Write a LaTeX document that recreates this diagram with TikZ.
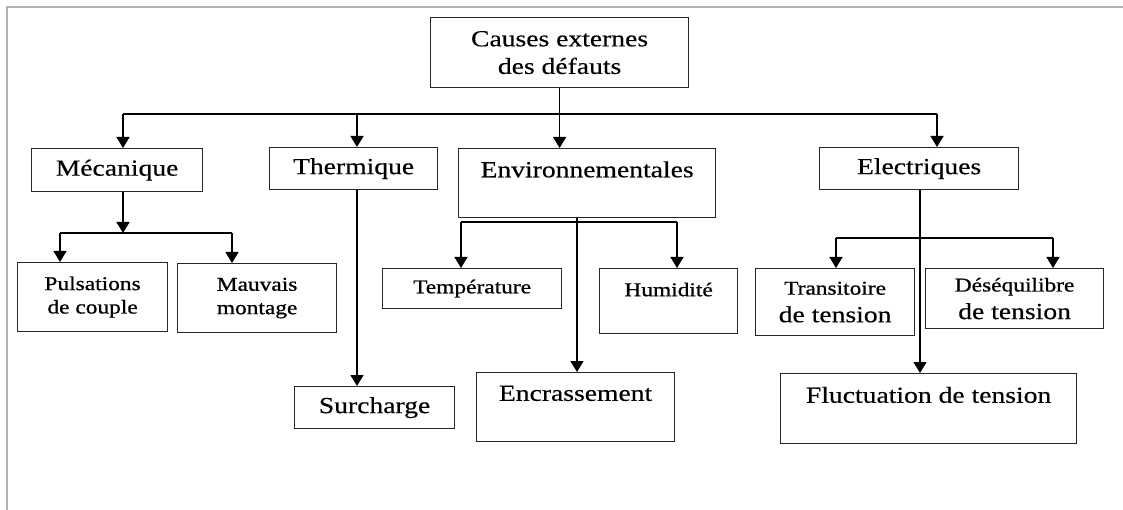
\documentclass[tikz,border=0pt]{standalone}
\usepackage{fontspec}
\usetikzlibrary{arrows.meta}
\setmainfont{Liberation Serif}[FakeStretch=1.2,FakeBold=0.4]
\newfontfamily\boldish{Liberation Serif}[FakeStretch=1.2,FakeBold=0.8]
\newcommand{\bigtxt}{\fontsize{23}{27.6}\selectfont}
\newcommand{\smalltxt}{\boldish\fontsize{19.5}{23.4}\selectfont}

\begin{document}
\begin{tikzpicture}[x=1pt,y=-1pt,
		box/.style={draw=black!85,line width=1.2pt,inner sep=0pt,align=center,anchor=north west,font=\bigtxt},
		sbox/.style={box,font=\smalltxt},
		arr/.style={line width=1.4pt,-{Triangle[length=11pt,width=13pt]}},
		bus/.style={line width=1.4pt}]
		\useasboundingbox (0,0) rectangle (1123,510);
		% cadre
		\draw[gray!60,line width=1.5pt] (1123,7) -- (7,7) -- (7,510);
		% boites
		\node[box,minimum width=258pt,minimum height=70pt] (root) at (430,17) {Causes externes\\des d\'efauts};
		\node[box,minimum width=171pt,minimum height=43pt] (meca) at (31,148) {M\'ecanique};
		\node[box,minimum width=168pt,minimum height=42pt] (therm) at (269,147) {Thermique};
		\node[box,minimum width=257pt,minimum height=69pt] (env) at (458,148) {Environnementales\\~};
		\node[box,minimum width=199pt,minimum height=42pt] (elec) at (819,147) {Electriques};
		\node[sbox,minimum width=150pt,minimum height=69pt] (puls) at (17,262) {Pulsations\\de couple};
		\node[sbox,minimum width=159pt,minimum height=69pt] (mauv) at (177,263) {Mauvais\\montage};
		\node[box,minimum width=160pt,minimum height=42pt] (surch) at (294,386) {Surcharge};
		\node[sbox,minimum width=179pt,minimum height=40pt] (temp) at (382,268) {Temp\'erature};
		\node[sbox,minimum width=138pt,minimum height=65pt] (humi) at (599,268) {Humidit\'e\\~};
		\node[box,minimum width=198pt,minimum height=69pt] (encr) at (476,372) {Encrassement\\~};
		\node[box,minimum width=159pt,minimum height=67pt] (trans) at (755,268) {{\smalltxt Transitoire}\\de tension};
		\node[box,minimum width=178pt,minimum height=60pt] (deseq) at (925,268) {{\smalltxt D\'es\'equilibre}\\de tension};
		\node[box,minimum width=296pt,minimum height=70pt] (fluct) at (780,373) {Fluctuation de tension\\~};
		% niveau 1
		\coordinate (busL) at (123,114);
		\coordinate (busT) at (357,114);
		\coordinate (busR) at (937,114);
		\draw[bus] (busL) -- (busR);
		\draw[arr] (root.south) -- (root.south |- env.north);
		\draw[arr] (busL) -- (busL |- meca.north);
		\draw[arr] (busT) -- (busT |- therm.north);
		\draw[arr] (busR) -- (busR |- elec.north);
		% mecanique
		\coordinate (mecaJ) at (123,233);
		\coordinate (pulsJ) at (60,233);
		\coordinate (mauvJ) at (232,233);
		\draw[arr] (mecaJ |- meca.south) -- (mecaJ);
		\draw[bus] (pulsJ) -- (mauvJ);
		\draw[arr] (pulsJ) -- (pulsJ |- puls.north);
		\draw[arr] (mauvJ) -- (mauvJ |- mauv.north);
		% thermique
		\draw[arr] (busT |- therm.south) -- (busT |- surch.north);
		% environnementales
		\coordinate (envX) at (577,222);
		\coordinate (tempJ) at (461,222);
		\coordinate (humiJ) at (677,222);
		\draw[bus] (tempJ) -- (humiJ);
		\draw[arr] (envX |- env.south) -- (envX |- encr.north);
		\draw[arr] (tempJ) -- (tempJ |- temp.north);
		\draw[arr] (humiJ) -- (humiJ |- humi.north);
		% electriques
		\coordinate (elecX) at (920,238);
		\coordinate (transJ) at (836,238);
		\coordinate (deseqJ) at (1053,238);
		\draw[bus] (transJ) -- (deseqJ);
		\draw[arr] (elecX |- elec.south) -- (elecX |- fluct.north);
		\draw[arr] (transJ) -- (transJ |- trans.north);
		\draw[arr] (deseqJ) -- (deseqJ |- deseq.north);
\end{tikzpicture}
\end{document}
